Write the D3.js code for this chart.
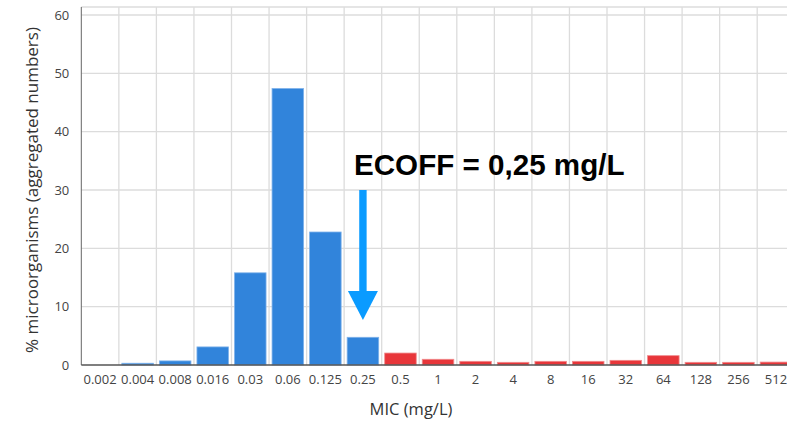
<!DOCTYPE html>
<html>
<head>
<meta charset="utf-8">
<script src="https://cdn.jsdelivr.net/npm/d3@7"></script>
<style>
  html, body { margin: 0; padding: 0; background: #fff; }
  svg { display: block; }
</style>
</head>
<body>
<svg id="chart" width="787" height="422"></svg>
<script>
// MIC dilution steps (mg/L)
const micLabels = ["0.002","0.004","0.008","0.016","0.03","0.06","0.125","0.25","0.5",
                   "1","2","4","8","16","32","64","128","256","512"];
// percentage of organisms at each MIC
const percentValues = [0, 0.3, 0.7, 3.1, 15.8, 47.4, 22.8, 4.75, 2.05,
                       0.98, 0.63, 0.46, 0.63, 0.63, 0.8, 1.6, 0.46, 0.46, 0.5];
const yTicks = [0, 10, 20, 30, 40, 50, 60];
const ecoffLabel = "0.25";
const ecoffText = "ECOFF = 0,25 mg/L";

const svg = d3.select("#chart");
const plotLeft = 81.3, plotBottom = 365, plotTop = 7;
const step = 37.55;

const x = d3.scaleBand()
  .domain(micLabels)
  .range([plotLeft, plotLeft + step * micLabels.length])
  .paddingInner(0.16)
  .paddingOuter(0.08);

const y = d3.scaleLinear().domain([0, 60]).range([plotBottom, 15]);

// vertical grid at category boundaries
const bounds = d3.range(1, micLabels.length + 1).map(i => plotLeft + step * i);
svg.append("g").selectAll("line").data(bounds).join("line")
  .attr("x1", d => d).attr("x2", d => d)
  .attr("y1", plotTop).attr("y2", plotBottom)
  .attr("stroke", "#dcdcdc").attr("stroke-width", 1.3);

// horizontal grid
svg.append("g").selectAll("line").data(yTicks.slice(1)).join("line")
  .attr("x1", plotLeft).attr("x2", 787)
  .attr("y1", d => y(d)).attr("y2", d => y(d))
  .attr("stroke", "#dcdcdc").attr("stroke-width", 1.3);
// top frame
svg.append("line").attr("x1", plotLeft).attr("x2", 787).attr("y1", plotTop).attr("y2", plotTop)
  .attr("stroke", "#dcdcdc").attr("stroke-width", 1.3);

// bars: susceptible (<= ECOFF) blue, others red
const ecoffIdx = micLabels.indexOf(ecoffLabel);
svg.append("g").selectAll("rect").data(micLabels).join("rect")
  .attr("x", d => x(d))
  .attr("width", x.bandwidth())
  .attr("y", (d, i) => y(percentValues[i]))
  .attr("height", (d, i) => plotBottom - y(percentValues[i]))
  .attr("fill", (d, i) => i <= ecoffIdx ? "#3184db" : "#e8363a")
  .attr("stroke", (d, i) => i <= ecoffIdx ? "#7fb2ea" : "#f08a8c")
  .attr("stroke-width", 0.8);

// axes
const yAxis = d3.axisLeft(y).tickValues(yTicks).tickSize(0).tickPadding(12);
const gy = svg.append("g").attr("transform", `translate(${plotLeft},0)`).call(yAxis);
gy.select(".domain").attr("stroke", "#666").attr("d", `M0,${plotTop}V${plotBottom}`);
gy.selectAll("text").attr("font-family", "'Open Sans', sans-serif")
  .attr("font-size", 13).attr("fill", "#444");

const xAxis = d3.axisBottom(x).tickSize(0).tickPadding(10);
const gx = svg.append("g").attr("transform", `translate(0,${plotBottom})`).call(xAxis);
gx.select(".domain").attr("stroke", "#555").attr("stroke-width", 1.3)
  .attr("d", `M${plotLeft},0H787`);
gx.selectAll("text").attr("font-family", "'Open Sans', sans-serif")
  .attr("font-size", 13).attr("fill", "#444");

// axis titles
svg.append("text")
  .attr("transform", "translate(38,190) rotate(-90)")
  .attr("text-anchor", "middle")
  .attr("font-family", "'Open Sans', sans-serif")
  .attr("font-size", 17).attr("fill", "#333")
  .text("% microorganisms (aggregated numbers)");

svg.append("text")
  .attr("x", 411).attr("y", 415)
  .attr("text-anchor", "middle")
  .attr("font-family", "'Open Sans', sans-serif")
  .attr("font-size", 16.5).attr("fill", "#333")
  .text("MIC (mg/L)");

// ECOFF marker arrow
const ax = x(ecoffLabel) + x.bandwidth() / 2;
svg.append("rect")
  .attr("x", ax - 3.7).attr("y", 190).attr("width", 7.4).attr("height", 102)
  .attr("fill", "#0a9bff");
svg.append("path")
  .attr("d", `M${ax - 15},291L${ax + 15},291L${ax},320Z`)
  .attr("fill", "#0a9bff");

svg.append("text")
  .attr("x", 354).attr("y", 175)
  .attr("font-family", "'Liberation Sans', Arial, sans-serif")
  .attr("font-weight", "bold")
  .attr("font-size", 29.6).attr("fill", "#000")
  .text(ecoffText);
</script>
</body>
</html>
